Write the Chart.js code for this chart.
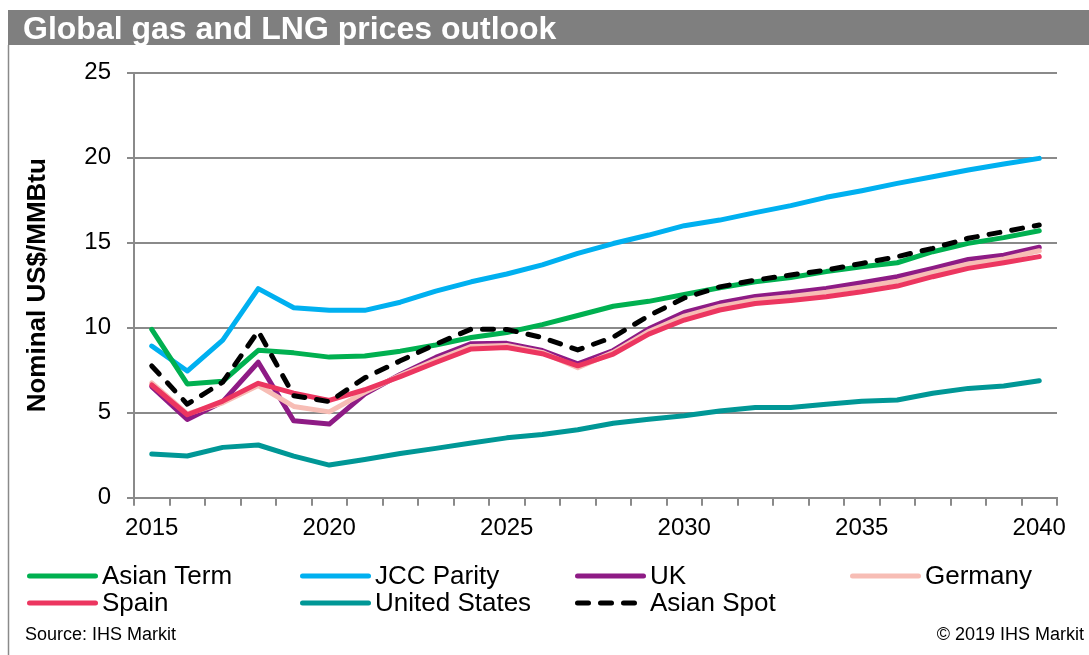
<!DOCTYPE html>
<html>
<head>
<meta charset="utf-8">
<title>Global gas and LNG prices outlook</title>
<script src="https://cdn.jsdelivr.net/npm/chart.js@4.4.1/dist/chart.umd.min.js"></script>
<style>
  html, body { margin: 0; padding: 0; background: #fff; }
  canvas { display: block; }
</style>
</head>
<body>
<canvas id="chart" width="1089" height="655"></canvas>
<script>
// Years on the horizontal axis
const years = ['2015','2016','2017','2018','2019','2020','2021','2022','2023','2024','2025','2026','2027',
               '2028','2029','2030','2031','2032','2033','2034','2035','2036','2037','2038','2039','2040'];

// Prices, nominal US$/MMBtu
const asianTerm = [9.9, 6.69, 6.85, 8.67, 8.52, 8.27, 8.33, 8.62, 8.98, 9.42, 9.72, 10.18, 10.72,
                   11.26, 11.55, 11.95, 12.35, 12.7, 12.95, 13.3, 13.59, 13.82, 14.47, 14.96, 15.3, 15.7];
const jccParity = [8.92, 7.45, 9.27, 12.3, 11.17, 11.02, 11.02, 11.5, 12.15, 12.7, 13.16, 13.7, 14.37,
                   14.95, 15.45, 16.0, 16.33, 16.77, 17.18, 17.67, 18.06, 18.49, 18.88, 19.28, 19.63, 19.96];
const uk = [6.53, 4.6, 5.65, 7.97, 4.52, 4.33, 6.1, 7.25, 8.25, 9.06, 9.08, 8.66, 7.88,
            8.66, 9.93, 10.9, 11.45, 11.84, 12.05, 12.31, 12.65, 13.0, 13.49, 14.02, 14.27, 14.73];
const germany = [6.75, 4.93, 5.58, 6.6, 5.37, 5.05, 6.2, 7.2, 8.1, 8.9, 8.95, 8.55, 7.65,
                 8.55, 9.78, 10.68, 11.25, 11.63, 11.83, 12.08, 12.4, 12.73, 13.25, 13.75, 14.05, 14.53];
const spain = [6.63, 4.88, 5.68, 6.73, 6.15, 5.72, 6.35, 7.12, 7.95, 8.75, 8.84, 8.47, 7.76,
               8.45, 9.62, 10.45, 11.04, 11.42, 11.6, 11.82, 12.12, 12.45, 13.0, 13.49, 13.82, 14.18];
const unitedStates = [2.57, 2.45, 2.96, 3.1, 2.45, 1.92, 2.25, 2.6, 2.9, 3.22, 3.52, 3.72, 4.0,
                      4.38, 4.62, 4.82, 5.1, 5.3, 5.3, 5.5, 5.68, 5.75, 6.14, 6.43, 6.57, 6.88];
const asianSpot = [7.75, 5.5, 6.8, 9.8, 6.0, 5.65, 7.05, 8.05, 9.03, 9.92, 9.9, 9.42, 8.69,
                   9.45, 10.7, 11.75, 12.4, 12.8, 13.1, 13.39, 13.78, 14.18, 14.67, 15.26, 15.65, 16.04];

// Value axis ticks
const yTicks = [0, 5, 10, 15, 20, 25];

const FONT = '"Liberation Sans", Arial, Helvetica, sans-serif';
const GRID = '#8a8a8a';

function series(label, data, color, order, dash) {
  return {
    label, data, order,
    borderColor: color,
    backgroundColor: color,
    borderWidth: 5,
    borderDash: dash || [],
    borderCapStyle: 'round',
    borderJoinStyle: 'round',
    pointRadius: 0,
    pointHoverRadius: 0,
    tension: 0,
    fill: false
  };
}

// Title band, frame line, legend and source notes
const decorations = {
  id: 'decorations',
  beforeDraw(chart) {
    const ctx = chart.ctx;
    ctx.save();
    ctx.fillStyle = '#ffffff';
    ctx.fillRect(0, 0, chart.width, chart.height);
    ctx.fillStyle = '#7f7f7f';
    ctx.fillRect(8, 10, chart.width - 8, 35);
    ctx.fillStyle = '#ffffff';
    ctx.font = 'bold 32px ' + FONT;
    ctx.textBaseline = 'alphabetic';
    ctx.textAlign = 'left';
    ctx.fillText('Global gas and LNG prices outlook', 23, 39);
    ctx.strokeStyle = '#8a8a8a';
    ctx.lineWidth = 1.5;
    ctx.beginPath();
    ctx.moveTo(8.5, 45);
    ctx.lineTo(8.5, chart.height);
    ctx.stroke();
    ctx.restore();
  },
  afterDraw(chart) {
    const ctx = chart.ctx;
    const cols = [27, 300, 575, 850];
    const rows = [576, 603];
    ctx.save();
    chart.data.datasets.forEach((ds, i) => {
      const x = cols[i % 4];
      const y = rows[Math.floor(i / 4)];
      ctx.strokeStyle = ds.borderColor;
      ctx.lineWidth = 5;
      ctx.lineCap = 'round';
      ctx.setLineDash(ds.borderDash || []);
      ctx.beginPath();
      ctx.moveTo(x + 2.5, y);
      ctx.lineTo(x + 68.5, y);
      ctx.stroke();
      ctx.setLineDash([]);
      ctx.fillStyle = '#000';
      ctx.font = '26px ' + FONT;
      ctx.textBaseline = 'middle';
      ctx.textAlign = 'left';
      ctx.fillText(ds.label, x + 75, y + 1);
    });
    ctx.font = '18px ' + FONT;
    ctx.textBaseline = 'alphabetic';
    ctx.fillStyle = '#000';
    ctx.textAlign = 'left';
    ctx.fillText('Source: IHS Markit', 25, 640);
    ctx.textAlign = 'right';
    ctx.fillText('\u00A9 2019 IHS Markit', 1084, 640);
    ctx.restore();
  }
};

new Chart(document.getElementById('chart'), {
  type: 'line',
  data: {
    labels: years,
    datasets: [
      series('Asian Term', asianTerm, '#00b050', 4),
      series('JCC Parity', jccParity, '#00b0f0', 5),
      series('UK', uk, '#8e1b85', 3),
      series('Germany', germany, '#f7bdb5', 2),
      series('Spain', spain, '#ec3660', 1),
      series('United States', unitedStates, '#009796', 6),
      series('Asian Spot', asianSpot, '#000000', 0, [11, 12])
    ]
  },
  options: {
    responsive: false,
    animation: false,
    devicePixelRatio: 1,
    layout: { padding: { left: 10, top: 72.7, right: 32, bottom: 97.3 } },
    plugins: {
      legend: { display: false },
      title: { display: false },
      tooltip: { enabled: false }
    },
    scales: {
      x: {
        type: 'category',
        offset: true,
        grid: { offset: true, drawOnChartArea: false, drawTicks: true, tickLength: 8, color: GRID, lineWidth: 2 },
        border: { display: true, color: GRID, width: 2 },
        ticks: {
          autoSkip: false,
          maxRotation: 0,
          minRotation: 0,
          padding: 8,
          color: '#000',
          font: { family: FONT, size: 24 },
          callback: (v, i) => (Number(years[i]) % 5 === 0 ? years[i] : '')
        },
        afterFit(scale) { scale.height = 60; }
      },
      y: {
        min: yTicks[0],
        max: yTicks[yTicks.length - 1],
        afterBuildTicks(scale) { scale.ticks = yTicks.map(v => ({ value: v })); },
        ticks: { padding: 16, color: '#000', font: { family: FONT, size: 24 } },
        grid: { color: GRID, lineWidth: 2, tickLength: 7 },
        border: { display: true, color: GRID, width: 2 },
        title: {
          display: true,
          text: 'Nominal US$/MMBtu',
          color: '#000',
          font: { family: FONT, size: 26, weight: 'bold' },
          padding: { top: 12, bottom: 0 }
        },
        afterFit(scale) { scale.width = 124; }
      }
    }
  },
  plugins: [decorations]
});
</script>
</body>
</html>
